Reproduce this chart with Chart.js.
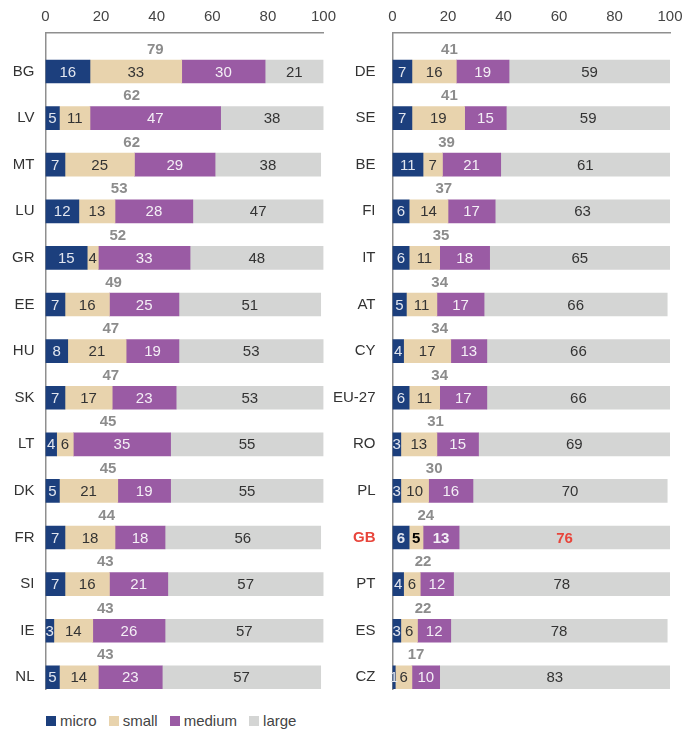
<!DOCTYPE html>
<html>
<head>
<meta charset="utf-8">
<script src="https://cdn.jsdelivr.net/npm/chart.js@4.4.1/dist/chart.umd.min.js"></script>
<style>
  body { margin: 0; background: #fff; font-family: "Liberation Sans", Arial, sans-serif; }
  #wrap { position: relative; width: 698px; height: 729px; overflow: hidden; }
  #left { position: absolute; left: 0; top: 0; }
  #right { position: absolute; left: 320px; top: 0; }
  #legend { position: absolute; left: 46px; top: 712px; display: flex; align-items: center; font-size: 15px; color: #444; }
  #legend span.box { display: inline-block; width: 10px; height: 10px; margin-right: 4px; }
  #legend span.txt { margin-right: 12px; }
</style>
</head>
<body>
<div id="wrap">
  <canvas id="left" width="343" height="700"></canvas>
  <canvas id="right" width="378" height="700"></canvas>
  <div id="legend"></div>
</div>
<script>
'use strict';

// data, left panel
const leftCountries = ['BG', 'LV', 'MT', 'LU', 'GR', 'EE', 'HU', 'SK', 'LT', 'DK', 'FR', 'SI', 'IE', 'NL'];
const leftMicro  = [16, 5, 7, 12, 15, 7, 8, 7, 4, 5, 7, 7, 3, 5];
const leftSmall  = [33, 11, 25, 13, 4, 16, 21, 17, 6, 21, 18, 16, 14, 14];
const leftMedium = [30, 47, 29, 28, 33, 25, 19, 23, 35, 19, 18, 21, 26, 23];
const leftLarge  = [21, 38, 38, 47, 48, 51, 53, 53, 55, 55, 56, 57, 57, 57];
const leftTotals = [79, 62, 62, 53, 52, 49, 47, 47, 45, 45, 44, 43, 43, 43];

// data, right panel
const rightCountries = ['DE', 'SE', 'BE', 'FI', 'IT', 'AT', 'CY', 'EU-27', 'RO', 'PL', 'GB', 'PT', 'ES', 'CZ'];
const rightMicro  = [7, 7, 11, 6, 6, 5, 4, 6, 3, 3, 6, 4, 3, 1];
const rightSmall  = [16, 19, 7, 14, 11, 11, 17, 11, 13, 10, 5, 6, 6, 6];
const rightMedium = [19, 15, 21, 17, 18, 17, 13, 17, 15, 16, 13, 12, 12, 10];
const rightLarge  = [59, 59, 61, 63, 65, 66, 66, 66, 69, 70, 76, 78, 78, 83];
const rightTotals = [41, 41, 39, 37, 35, 34, 34, 34, 31, 30, 24, 22, 22, 17];

const xTicks = [0, 20, 40, 60, 80, 100];
const seriesNames = ['micro', 'small', 'medium', 'large'];
const seriesColors = ['#1c3f7d', '#e8d3ad', '#9a5ba4', '#d4d5d4'];
const labelColors = ['#e2e6ef', '#333333', '#f4eff6', '#333333'];
const highlight = 'GB';
const red = '#e8453b';
const FONT = '"Liberation Sans", Arial, sans-serif';

const labelsPlugin = {
  id: 'barLabels',
  afterDatasetsDraw(chart, args, opts) {
    const ctx = chart.ctx;
    const xs = chart.scales.x, ys = chart.scales.y;
    ctx.save();
    ctx.textAlign = 'center';
    ctx.textBaseline = 'middle';
    chart.data.datasets.forEach((ds, di) => {
      chart.getDatasetMeta(di).data.forEach((bar, i) => {
        const hl = opts.countries[i] === highlight;
        const end = Math.min(bar.x, xs.right);
        const cx = (end + bar.base) / 2;
        let col = labelColors[di];
        if (hl && di === 1) col = '#000';
        if (hl && di === 3) col = red;
        ctx.fillStyle = col;
        ctx.font = (hl ? 'bold ' : '') + '15px ' + FONT;
        ctx.fillText(String(ds.data[i].x), cx, bar.y + 1);
      });
    });
    // totals of micro+small+medium above each bar
    ctx.fillStyle = '#8c8c8c';
    ctx.font = 'bold 15px ' + FONT;
    opts.totals.forEach((t, i) => {
      ctx.fillText(String(t), xs.getPixelForValue(t / 2), ys.getPixelForValue(i) - 22);
    });
    ctx.restore();
  }
};

function makeChart(id, countries, series, totals, yWidth, padRight, tickPad) {
  const ctx = document.getElementById(id).getContext('2d');
  const isHl = (c) => !!(c && c.tick && countries[c.tick.value] === highlight);
  return new Chart(ctx, {
    type: 'bar',
    data: {
      datasets: series.map((vals, k) => ({
        label: seriesNames[k],
        data: vals.map((v, i) => ({ x: v, y: i })),
        backgroundColor: seriesColors[k],
        borderWidth: 0,
        stack: 'all',
        barThickness: 23,
      })),
    },
    options: {
      indexAxis: 'y',
      responsive: false,
      animation: false,
      layout: { padding: { top: 0, right: padRight, bottom: 11, left: 0 } },
      plugins: {
        legend: { display: false },
        tooltip: { enabled: false },
        barLabels: { countries: countries, totals: totals },
      },
      scales: {
        x: {
          type: 'linear',
          position: 'top',
          stacked: true,
          min: 0,
          max: 100,
          afterBuildTicks: (s) => { s.ticks = xTicks.map((v) => ({ value: v })); },
          ticks: { color: '#444', font: { size: 15, family: FONT }, padding: 7 },
          grid: { display: false, drawTicks: false },
          border: { display: true, color: '#8f8f8f', width: 1.5 },
          afterFit: (s) => { s.height = 33; },
        },
        y: {
          type: 'linear',
          offset: false,
          reverse: true,
          min: -0.826,
          max: 13.25,
          afterBuildTicks: (s) => { s.ticks = countries.map((c, i) => ({ value: i })); },
          ticks: {
            callback: (v) => countries[v],
            padding: tickPad,
            color: (c) => isHl(c) ? red : '#333',
            font: (c) => ({ size: 15, family: FONT, weight: isHl(c) ? 'bold' : 'normal' }),
          },
          grid: { display: false, drawTicks: false },
          border: { display: true, color: '#8f8f8f', width: 1.5 },
          afterFit: (s) => { s.width = yWidth; s.paddingTop = 0; s.paddingBottom = 0; },
        },
      },
    },
    plugins: [labelsPlugin],
  });
}

// legend
const legend = document.getElementById('legend');
seriesNames.forEach((n, k) => {
  const box = document.createElement('span');
  box.className = 'box';
  box.style.background = seriesColors[k];
  const txt = document.createElement('span');
  txt.className = 'txt';
  txt.textContent = n;
  legend.appendChild(box);
  legend.appendChild(txt);
});

makeChart('left', leftCountries, [leftMicro, leftSmall, leftMedium, leftLarge], leftTotals, 45.5, 15, 11);
makeChart('right', rightCountries, [rightMicro, rightSmall, rightMedium, rightLarge], rightTotals, 72.5, 28, 17);
</script>
</body>
</html>
